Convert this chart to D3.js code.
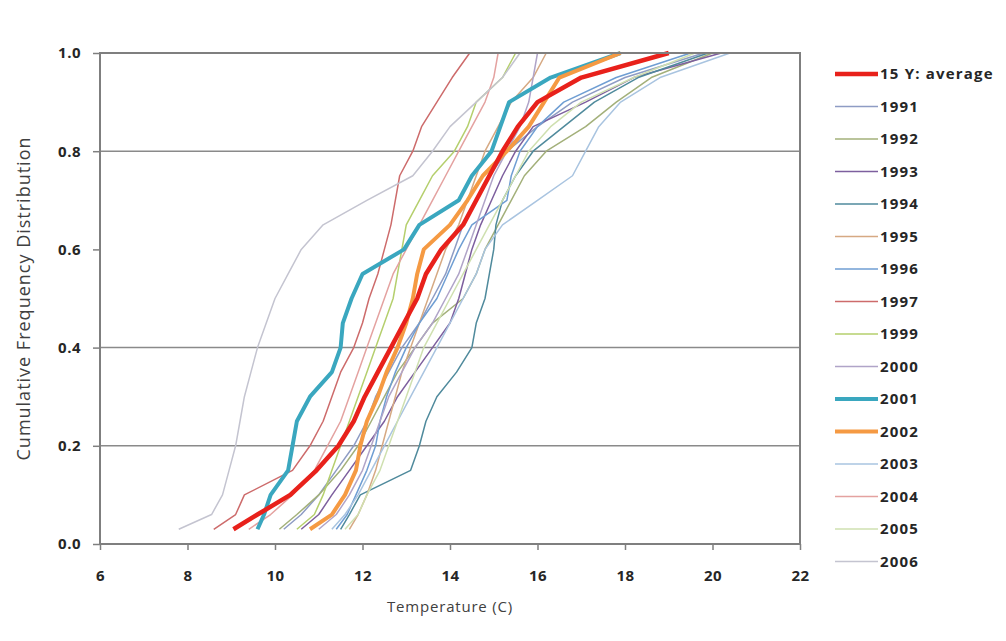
<!DOCTYPE html>
<html>
<head>
<meta charset="utf-8">
<script src="https://cdn.jsdelivr.net/npm/d3@7"></script>
<style>
  body { margin: 0; background: #fff; }
  text { font-family: "Open Sans", Lato, sans-serif; }
</style>
</head>
<body>
<div id="chart"></div>
<script>
// cumulative frequency levels shared by all series
var freqs = [0.03, 0.06, 0.1, 0.15, 0.2, 0.25, 0.3, 0.35, 0.4, 0.45, 0.5, 0.55, 0.6, 0.65, 0.7, 0.75, 0.8, 0.85, 0.9, 0.95, 1.0]

var seriesNames = ['15 Y: average', '1991', '1992', '1993', '1994', '1995', '1996', '1997', '1999', '2000', '2001', '2002', '2003', '2004', '2005', '2006']

// temperature (C) reached at each frequency level
var tAvg  = [9.05, 9.6, 10.35, 10.95, 11.45, 11.8, 12.05, 12.35, 12.65, 12.95, 13.25, 13.45, 13.8, 14.3, 14.6, 14.9, 15.2, 15.55, 16.0, 17.0, 19.0]
var t1991 = [10.2, 10.6, 11.0, 11.4, 11.8, 12.1, 12.3, 12.6, 12.9, 13.3, 13.6, 13.9, 14.1, 14.3, 14.6, 14.9, 15.3, 16.0, 16.8, 18.0, 19.8]
var t1992 = [10.1, 10.5, 11.0, 11.5, 11.9, 12.2, 12.5, 12.8, 13.2, 13.6, 14.3, 14.6, 14.8, 15.1, 15.4, 15.7, 16.2, 17.1, 17.8, 18.6, 20.0]
var t1993 = [10.6, 11.0, 11.3, 11.7, 12.1, 12.5, 12.8, 13.2, 13.6, 14.0, 14.2, 14.35, 14.5, 14.7, 14.95, 15.2, 15.5, 15.9, 17.1, 18.2, 20.2]
var t1994 = [11.5, 11.7, 11.95, 13.1, 13.3, 13.45, 13.7, 14.15, 14.5, 14.6, 14.8, 14.9, 15.0, 15.05, 15.2, 15.5, 15.9, 16.6, 17.3, 18.3, 19.9]
var t1995 = [11.7, 11.9, 12.1, 12.3, 12.45, 12.6, 12.75, 12.9, 13.1, 13.3, 13.5, 13.7, 13.9, 14.2, 14.4, 14.6, 14.8, 15.1, 15.4, 15.9, 16.2]
var t1996 = [11.4, 11.65, 11.85, 12.1, 12.3, 12.4, 12.55, 12.75, 13.0, 13.3, 13.7, 13.95, 14.2, 14.5, 15.3, 15.4, 15.6, 16.0, 16.6, 17.8, 19.5]
var t1997 = [8.6, 9.1, 9.3, 10.4, 10.8, 11.1, 11.3, 11.5, 11.8, 12.0, 12.15, 12.35, 12.5, 12.65, 12.75, 12.85, 13.15, 13.35, 13.7, 14.05, 14.45]
var t1999 = [10.5, 10.9, 11.1, 11.3, 11.5, 11.7, 11.9, 12.1, 12.3, 12.5, 12.7, 12.8, 12.9, 13.0, 13.3, 13.6, 14.1, 14.4, 14.6, 15.2, 15.5]
var t2000 = [11.0, 11.4, 11.7, 12.0, 12.2, 12.4, 12.6, 12.9, 13.2, 13.6, 13.9, 14.2, 14.4, 14.6, 14.8, 15.0, 15.3, 15.6, 15.8, 15.9, 16.0]
var t2001 = [9.6, 9.75, 9.9, 10.3, 10.4, 10.5, 10.8, 11.3, 11.5, 11.55, 11.75, 12.0, 12.95, 13.3, 14.2, 14.5, 14.95, 15.15, 15.35, 16.3, 17.9]
var t2002 = [10.8, 11.3, 11.6, 11.85, 11.95, 12.1, 12.35, 12.55, 12.8, 13.0, 13.15, 13.25, 13.4, 14.0, 14.4, 14.75, 15.3, 15.8, 16.15, 16.5, 17.9]
var t2003 = [11.3, 11.6, 11.9, 12.2, 12.5, 12.8, 13.1, 13.4, 13.7, 14.0, 14.3, 14.6, 14.8, 15.2, 16.0, 16.8, 17.1, 17.4, 17.9, 18.8, 20.4]
var t2004 = [9.4, 9.9, 10.4, 10.9, 11.2, 11.5, 11.7, 11.9, 12.1, 12.3, 12.5, 12.7, 13.0, 13.3, 13.6, 13.9, 14.2, 14.5, 14.8, 15.0, 15.1]
var t2005 = [11.6, 11.9, 12.1, 12.4, 12.6, 12.8, 13.0, 13.2, 13.4, 13.7, 14.0, 14.3, 14.6, 14.9, 15.2, 15.5, 15.8, 16.3, 17.0, 18.2, 19.6]
var t2006 = [7.8, 8.55, 8.8, 8.95, 9.1, 9.2, 9.3, 9.45, 9.6, 9.8, 10.0, 10.3, 10.6, 11.1, 12.1, 13.15, 13.6, 14.0, 14.6, 15.2, 15.6]

var seriesTemps = [tAvg, t1991, t1992, t1993, t1994, t1995, t1996, t1997, t1999, t2000, t2001, t2002, t2003, t2004, t2005, t2006]

var colors = ['#e8211b', '#8e9cc4', '#a3b07a', '#7d5f9e', '#4f8a9c', '#d6a983', '#6f9ed3', '#cd6b6b',
              '#b5cf6d', '#b0a4c8', '#3aa7bf', '#f59a43', '#a9c4e0', '#e4a2a0', '#cfe0b0', '#c4c4d0']
var widths = [4.5, 1.5, 1.5, 1.5, 1.5, 1.5, 1.5, 1.5, 1.5, 1.5, 4, 4, 1.5, 1.5, 1.5, 1.5]

var xTicks = [6, 8, 10, 12, 14, 16, 18, 20, 22]
var yTicks = [0, 0.2, 0.4, 0.6, 0.8, 1.0]
var gridTicks = [0.2, 0.4, 0.8]

var w = 1006, h = 641
var margin = {top: 53, right: 206, bottom: 97, left: 100}
var width = w - margin.left - margin.right
var height = h - margin.top - margin.bottom

var svg = d3.select('#chart').append('svg')
    .attr('width', w)
    .attr('height', h)
var g = svg.append('g')
    .attr('transform', 'translate(' + margin.left + ',' + margin.top + ')')

var x = d3.scaleLinear().domain([6, 22]).range([0, width])
var y = d3.scaleLinear().domain([0, 1]).range([height, 0])

// gridlines
g.selectAll('.grid')
  .data(gridTicks)
  .enter().append('line')
    .attr('class', 'grid')
    .attr('x1', 0).attr('x2', width)
    .attr('y1', function(d) {return y(d)}).attr('y2', function(d) {return y(d)})
    .attr('stroke', '#8a8a8a')
    .attr('stroke-width', 1.5)

var line = d3.line()
    .x(function(d) {return x(d.t)})
    .y(function(d) {return y(d.f)})

var series = seriesNames.map(function(name, i) {
  return {
    name: name,
    color: colors[i],
    width: widths[i],
    values: seriesTemps[i].map(function(t, j) {return {t: t, f: freqs[j]}})
  }
})

// thin lines first, thick ones on top
var order = series.slice(1).filter(function(s) {return s.width < 3})
  .concat([series[10], series[11], series[0]])

g.selectAll('.cfd')
  .data(order)
  .enter().append('path')
    .attr('class', 'cfd')
    .attr('d', function(d) {return line(d.values)})
    .attr('fill', 'none')
    .attr('stroke', function(d) {return d.color})
    .attr('stroke-width', function(d) {return d.width})
    .attr('stroke-linejoin', 'round')

// frame
g.append('rect')
    .attr('width', width)
    .attr('height', height)
    .attr('fill', 'none')
    .attr('stroke', '#7f7f7f')
    .attr('stroke-width', 2)

var xAxis = g.append('g')
    .attr('transform', 'translate(0,' + height + ')')
    .call(d3.axisBottom(x).tickValues(xTicks).tickSize(6).tickPadding(20).tickFormat(d3.format('d')))
var yAxis = g.append('g')
    .call(d3.axisLeft(y).tickValues(yTicks).tickSize(7).tickPadding(12).tickFormat(d3.format('.1f')))

;[xAxis, yAxis].forEach(function(a) {
  a.select('.domain').remove()
  a.selectAll('line').attr('stroke', '#7f7f7f').attr('stroke-width', 1.5)
  a.selectAll('text')
      .attr('fill', '#262626')
      .style('font-family', '"Open Sans", Lato, sans-serif')
      .style('font-size', '15px')
      .style('font-weight', 'bold')
      .style('letter-spacing', '0.5px')
})

g.append('text')
    .attr('x', width / 2)
    .attr('y', height + 68)
    .attr('text-anchor', 'middle')
    .attr('fill', '#404040')
    .style('font-size', '15px')
    .style('letter-spacing', '0.8px')
    .text('Temperature (C)')

g.append('text')
    .attr('transform', 'rotate(-90)')
    .attr('x', -height / 2)
    .attr('y', -70)
    .attr('text-anchor', 'middle')
    .attr('fill', '#404040')
    .style('font-size', '18px')
    .style('letter-spacing', '1px')
    .text('Cumulative Frequency Distribution')

// legend
var legend = svg.append('g')
    .attr('transform', 'translate(835,74)')
var item = legend.selectAll('.item')
  .data(series)
  .enter().append('g')
    .attr('class', 'item')
    .attr('transform', function(d, i) {return 'translate(0,' + (i * 32.5) + ')'})
item.append('line')
    .attr('x1', 0).attr('x2', 43)
    .attr('stroke', function(d) {return d.color})
    .attr('stroke-width', function(d) {return d.width})
item.append('text')
    .attr('x', 45)
    .attr('dy', '0.35em')
    .attr('fill', '#262626')
    .style('font-size', '15px')
    .style('font-weight', 'bold')
    .style('letter-spacing', '1.2px')
    .text(function(d) {return d.name})
</script>
</body>
</html>
